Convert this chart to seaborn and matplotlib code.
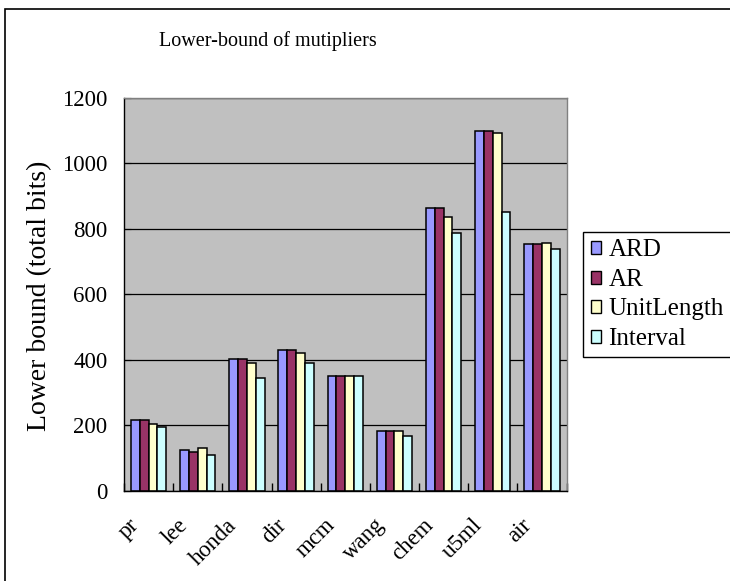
import numpy as np
import pandas as pd
import matplotlib
matplotlib.use("Agg")
import matplotlib.pyplot as plt
import seaborn as sns
from matplotlib.patches import Rectangle, Patch

# Benchmarks and lower bounds (total bits) per method
categories = ["pr", "lee", "honda", "dir", "mcm", "wang", "chem", "u5ml", "air"]
methods = ["ARD", "AR", "UnitLength", "Interval"]
ard = [217, 124, 402, 429, 350, 182, 862, 1098, 752]
ar = [217, 119, 402, 429, 350, 182, 862, 1098, 752]
unit_length = [203, 132, 390, 421, 350, 182, 836, 1091, 756]
interval = [195, 110, 345, 390, 350, 168, 788, 850, 739]
y_ticks = [0, 200, 400, 600, 800, 1000, 1200]

colors = ["#9999FF", "#993366", "#FFFFCC", "#CCFFFF"]

rows = []
for name, vals in zip(methods, [ard, ar, unit_length, interval]):
    for cat, v in zip(categories, vals):
        rows.append({"circuit": cat, "method": name, "bits": v})
df = pd.DataFrame(rows)

serif = "Liberation Serif"

W, H = 730, 581
fig = plt.figure(figsize=(W / 100, H / 100), dpi=100)
fig.patch.set_facecolor("white")
ax = fig.add_axes([124 / W, 90 / H, 442.5 / W, 393.5 / H])

sns.barplot(data=df, x="circuit", y="bits", hue="method", order=categories,
            hue_order=methods, palette=colors, saturation=1, width=0.72,
            edgecolor="black", linewidth=1.1, ax=ax, legend=False)

ax.set_facecolor("#C0C0C0")
ax.set_xlim(-0.5, 8.5)
ax.set_ylim(0, 1200)
ax.set_yticks(y_ticks)
ax.set_yticklabels([str(t) for t in y_ticks], fontfamily=serif, fontsize=16.5)
ax.yaxis.grid(True, color="black", linewidth=0.9)
ax.xaxis.grid(False)
ax.set_axisbelow(True)
ax.set_xlabel("")
ax.set_ylabel("")

for side in ["top", "right"]:
    ax.spines[side].set_color("#808080")
    ax.spines[side].set_linewidth(1.0)
for side in ["left", "bottom"]:
    ax.spines[side].set_color("black")
    ax.spines[side].set_linewidth(1.0)

ax.tick_params(axis="y", direction="in", length=5, pad=12, colors="black")

# Category names sit left of each group, slanted at 45 degrees
label_pos = np.arange(len(categories)) - 0.42
ax.set_xticks(label_pos, labels=categories)
ax.tick_params(axis="x", which="major", length=0, pad=17)
ax.set_xticks(np.arange(-0.5, len(categories), 1.0), minor=True)
ax.tick_params(axis="x", which="minor", direction="in", length=6, width=1.0, color="black")
ax.set_xlim(-0.5, 8.5)

for lab in ax.get_xticklabels():
    lab.set_rotation(45)
    lab.set_ha("right")
    lab.set_va("top")
    lab.set_rotation_mode("anchor")
    lab.set_fontfamily(serif)
    lab.set_fontsize(16.5)

# Chart title and axis title
fig.text(268 / W, 1 - 41 / H, "Lower-bound of mutipliers", ha="center", va="center",
         fontfamily=serif, fontsize=14.5, color="black")
fig.text(40 / W, 1 - 296 / H, "Lower bound (total bits)", ha="center", va="center",
         rotation=90, fontfamily=serif, fontsize=20, color="black")

# Legend
handles = [Patch(facecolor=c, edgecolor="black", linewidth=1.0) for c in colors]
leg = fig.legend(handles, methods, loc="upper left",
                 bbox_to_anchor=(583 / W, 1 - 232 / H), frameon=True, fancybox=False,
                 edgecolor="black", framealpha=1, prop={"family": serif, "size": 18},
                 handlelength=0.42, handleheight=0.42, handletextpad=0.3,
                 labelspacing=0.3, borderpad=0.3, borderaxespad=0)
leg.get_frame().set_linewidth(1.0)

# Outer chart border
fig.add_artist(Rectangle((5 / W, -0.1), 1.2, 1 - 9 / H + 0.1, transform=fig.transFigure,
                         fill=False, edgecolor="black", linewidth=1.2))

fig.savefig("out.png", dpi=100)
